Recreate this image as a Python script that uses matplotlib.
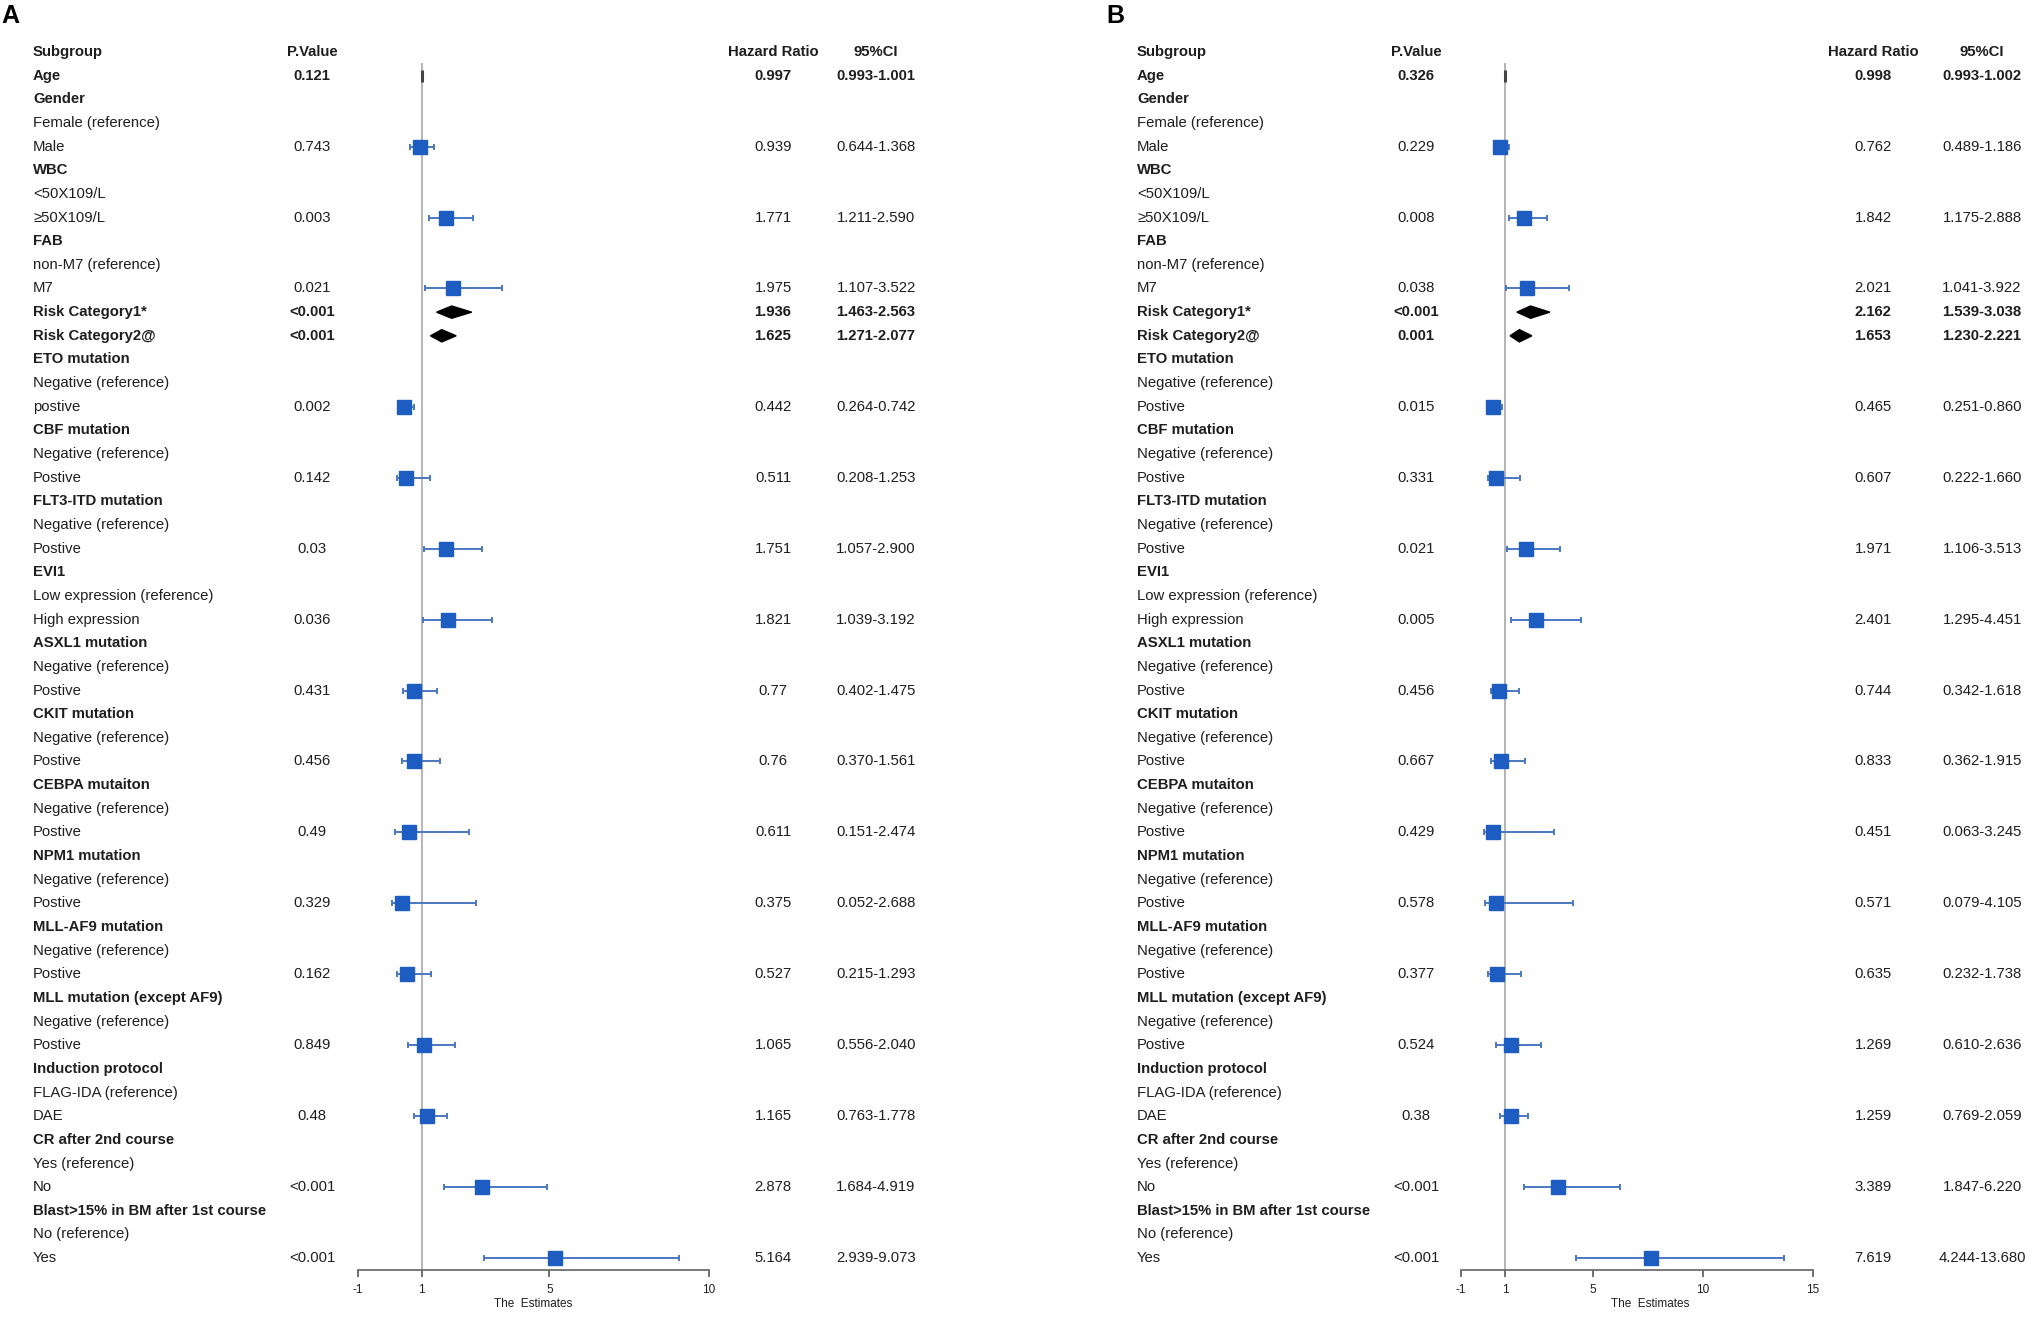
import matplotlib
matplotlib.use("Agg")
import matplotlib.pyplot as plt
import matplotlib.transforms as mtransforms
from matplotlib.patches import Polygon

plt.rcParams['font.family'] = ['Liberation Sans', 'DejaVu Sans']
plt.rcParams['axes.unicode_minus'] = False

# ---- data ----
subgroups_a = ["Age", "Gender", "Female (reference)", "Male", "WBC", "<50X109/L", "≥50X109/L",
               "FAB", "non-M7 (reference)", "M7", "Risk Category1*", "Risk Category2@",
               "ETO mutation", "Negative (reference)", "postive",
               "CBF mutation", "Negative (reference)", "Postive",
               "FLT3-ITD mutation", "Negative (reference)", "Postive",
               "EVI1", "Low expression (reference)", "High expression",
               "ASXL1 mutation", "Negative (reference)", "Postive",
               "CKIT mutation", "Negative (reference)", "Postive",
               "CEBPA mutaiton", "Negative (reference)", "Postive",
               "NPM1 mutation", "Negative (reference)", "Postive",
               "MLL-AF9 mutation", "Negative (reference)", "Postive",
               "MLL mutation (except AF9)", "Negative (reference)", "Postive",
               "Induction protocol", "FLAG-IDA (reference)", "DAE",
               "CR after 2nd course", "Yes (reference)", "No",
               "Blast>15% in BM after 1st course", "No (reference)", "Yes"]
subgroups_b = list(subgroups_a)
subgroups_b[14] = "Postive"

bold_rows = [0, 1, 4, 7, 10, 11, 12, 15, 18, 21, 24, 27, 30, 33, 36, 39, 42, 45, 48]
est_rows = [0, 3, 6, 9, 10, 11, 14, 17, 20, 23, 26, 29, 32, 35, 38, 41, 44, 47, 50]
diamond_rows = [10, 11]
line_rows = [0]

p_a = ["0.121", "0.743", "0.003", "0.021", "<0.001", "<0.001", "0.002", "0.142", "0.03", "0.036",
       "0.431", "0.456", "0.49", "0.329", "0.162", "0.849", "0.48", "<0.001", "<0.001"]
hr_a = ["0.997", "0.939", "1.771", "1.975", "1.936", "1.625", "0.442", "0.511", "1.751", "1.821",
        "0.77", "0.76", "0.611", "0.375", "0.527", "1.065", "1.165", "2.878", "5.164"]
ci_a = ["0.993-1.001", "0.644-1.368", "1.211-2.590", "1.107-3.522", "1.463-2.563", "1.271-2.077",
        "0.264-0.742", "0.208-1.253", "1.057-2.900", "1.039-3.192", "0.402-1.475", "0.370-1.561",
        "0.151-2.474", "0.052-2.688", "0.215-1.293", "0.556-2.040", "0.763-1.778", "1.684-4.919",
        "2.939-9.073"]

p_b = ["0.326", "0.229", "0.008", "0.038", "<0.001", "0.001", "0.015", "0.331", "0.021", "0.005",
       "0.456", "0.667", "0.429", "0.578", "0.377", "0.524", "0.38", "<0.001", "<0.001"]
hr_b = ["0.998", "0.762", "1.842", "2.021", "2.162", "1.653", "0.465", "0.607", "1.971", "2.401",
        "0.744", "0.833", "0.451", "0.571", "0.635", "1.269", "1.259", "3.389", "7.619"]
ci_b = ["0.993-1.002", "0.489-1.186", "1.175-2.888", "1.041-3.922", "1.539-3.038", "1.230-2.221",
        "0.251-0.860", "0.222-1.660", "1.106-3.513", "1.295-4.451", "0.342-1.618", "0.362-1.915",
        "0.063-3.245", "0.079-4.105", "0.232-1.738", "0.610-2.636", "0.769-2.059", "1.847-6.220",
        "4.244-13.680"]

ticks_a = [-1, 1, 5, 10]
ticks_b = [-1, 1, 5, 10, 15]

W, H = 2035, 1332
TXT = '#1e1e1e'
BLUE = '#1d5cc0'
CI_BLUE = '#4a78c0'
FS = 10.7


def fx(px):
    return px / W


def draw_panel(fig, letter, letter_x, subgroups, pv, hrs, cis, ticks, cols, xpix, label_x):
    x_sub, x_p, x_hr, x_ci = cols
    top, bot = 28.35, 1329.1
    ax = fig.add_axes([fx(xpix[0]), 1 - bot / H, fx(xpix[1] - xpix[0]), (bot - top) / H])
    ax.set_xlim(ticks[0], ticks[-1])
    ax.set_ylim(53, -2)
    ax.patch.set_alpha(0)
    for s in ['left', 'top', 'right']:
        ax.spines[s].set_visible(False)
    ax.spines['bottom'].set_position(('data', 50.5))
    ax.spines['bottom'].set_bounds(ticks[0], ticks[-1])
    ax.spines['bottom'].set_color('#6e6e6e')
    ax.spines['bottom'].set_linewidth(1.3)
    ax.set_yticks([])
    ax.set_xticks(ticks)
    ax.set_xticklabels([str(t) for t in ticks])
    ax.tick_params(axis='x', direction='out', length=5, width=1.2, color='#555555',
                   labelcolor=TXT, labelsize=8.5, pad=5)
    ax.set_xlabel('The  Estimates', fontsize=8.5, color=TXT, labelpad=1.5)
    ax.xaxis.label.set_x(label_x)

    # reference line at 1
    ax.plot([1, 1], [-0.5, 50.5], color='#b4b4b4', lw=1.4, zorder=1)

    tr = mtransforms.blended_transform_factory(fig.transFigure, ax.transData)
    kw = dict(transform=tr, va='center', color=TXT, fontsize=FS)

    fig.text(fx(letter_x), 1 - 16 / H, letter, fontsize=18, fontweight='bold', va='center', ha='left')

    # header
    ax.text(fx(x_sub), -1, 'Subgroup', ha='left', fontweight='bold', **kw)
    ax.text(fx(x_p), -1, 'P.Value', ha='center', fontweight='bold', **kw)
    ax.text(fx(x_hr), -1, 'Hazard Ratio', ha='center', fontweight='bold', **kw)
    ax.text(fx(x_ci), -1, '95%CI', ha='center', fontweight='bold', **kw)

    for i, lab in enumerate(subgroups):
        w = 'bold' if i in bold_rows else 'normal'
        ax.text(fx(x_sub), i, lab, ha='left', fontweight=w, **kw)

    for k, r in enumerate(est_rows):
        w = 'bold' if r in bold_rows else 'normal'
        ax.text(fx(x_p), r, pv[k], ha='center', fontweight=w, **kw)
        ax.text(fx(x_hr), r, hrs[k], ha='center', fontweight=w, **kw)
        ax.text(fx(x_ci), r, cis[k], ha='center', fontweight=w, **kw)

        hr = float(hrs[k])
        lo, hi = [float(v) for v in cis[k].split('-')]
        if r in diamond_rows:
            ax.add_patch(Polygon([(lo, r), (hr, r - 0.26), (hi, r), (hr, r + 0.26)],
                                 closed=True, color='black', zorder=3))
        elif r in line_rows:
            ax.plot([hr], [r], marker='|', ms=8.5, mew=2.2, color='#444444', zorder=3)
        else:
            ax.errorbar([hr], [r], xerr=[[hr - lo], [hi - hr]], fmt='none', ecolor=CI_BLUE,
                        elinewidth=1.4, capsize=2.0, capthick=1.4, zorder=2)
            ax.plot([hr], [r], marker='s', ms=9.5, color=BLUE, mec=BLUE, zorder=3)
    return ax


fig = plt.figure(figsize=(W / 100, H / 100), dpi=100, facecolor='white')

draw_panel(fig, 'A', 1, subgroups_a, p_a, hr_a, ci_a, ticks_a,
           (33, 312, 773, 876), (358, 709), 0.5)
draw_panel(fig, 'B', 1106, subgroups_b, p_b, hr_b, ci_b, ticks_b,
           (1137, 1416, 1873, 1982), (1461, 1813), 0.537)

fig.savefig('out.png', dpi=100, facecolor='white')
